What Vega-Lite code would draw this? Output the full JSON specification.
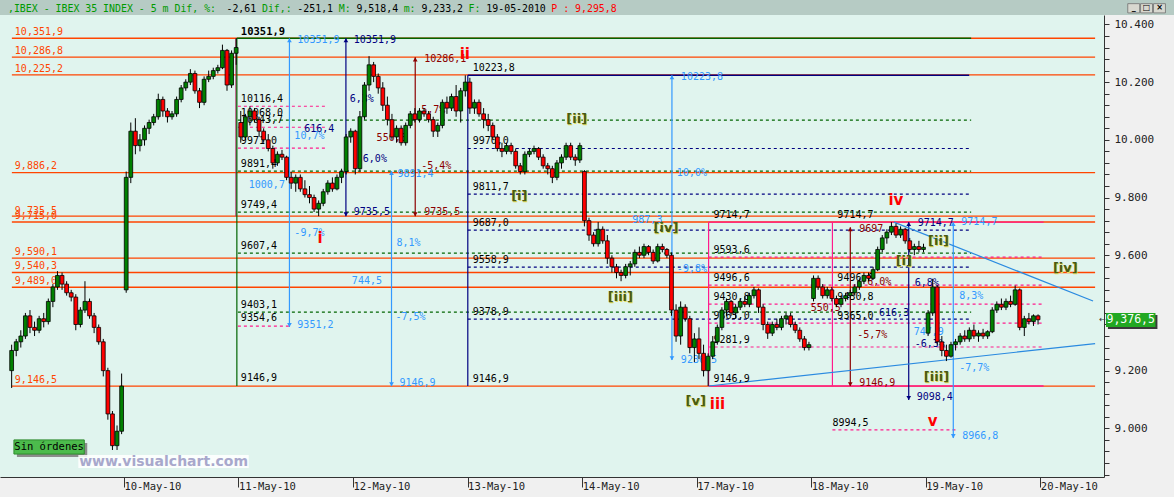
{
"$schema":"https://vega.github.io/schema/vega-lite/v6.json",
"width":1104,"height":462,"autosize":{"type":"none"},
"padding":{"left":0,"top":15,"right":70,"bottom":20},
"background":"#f0f0f0",
"config":{"view":{"fill":"#e0f4ee","stroke":null},"font":"DejaVu Sans Mono"},
"datasets":{
"candles":[
{"t":-0.98,"o":9200,"h":9290,"l":9140,"c":9270},{"t":-0.94,"o":9270,"h":9310,"l":9250,"c":9300},{"t":-0.90,"o":9300,"h":9340,"l":9280,"c":9320},{"t":-0.86,"o":9320,"h":9400,"l":9310,"c":9390},{"t":-0.82,"o":9390,"h":9410,"l":9330,"c":9350},{"t":-0.78,"o":9350,"h":9370,"l":9320,"c":9340},{"t":-0.74,"o":9340,"h":9390,"l":9330,"c":9380},{"t":-0.70,"o":9380,"h":9400,"l":9350,"c":9370},{"t":-0.66,"o":9370,"h":9450,"l":9360,"c":9440},{"t":-0.62,"o":9440,"h":9500,"l":9420,"c":9490},{"t":-0.58,"o":9490,"h":9545,"l":9480,"c":9530},{"t":-0.54,"o":9530,"h":9540,"l":9480,"c":9500},{"t":-0.50,"o":9500,"h":9510,"l":9460,"c":9470},{"t":-0.46,"o":9470,"h":9480,"l":9440,"c":9455},{"t":-0.42,"o":9455,"h":9465,"l":9340,"c":9360},{"t":-0.38,"o":9360,"h":9420,"l":9350,"c":9410},{"t":-0.34,"o":9410,"h":9510,"l":9400,"c":9440},{"t":-0.30,"o":9440,"h":9450,"l":9380,"c":9390},{"t":-0.26,"o":9390,"h":9400,"l":9330,"c":9350},{"t":-0.22,"o":9350,"h":9360,"l":9290,"c":9300},{"t":-0.18,"o":9300,"h":9310,"l":9180,"c":9200},{"t":-0.14,"o":9200,"h":9210,"l":9030,"c":9050},{"t":-0.10,"o":9050,"h":9060,"l":8925,"c":8940},{"t":-0.06,"o":8940,"h":9010,"l":8925,"c":8990},{"t":-0.02,"o":8990,"h":9190,"l":8980,"c":9146.5},
{"t":0.02,"o":9480,"h":9890,"l":9470,"c":9870},{"t":0.06,"o":9870,"h":10060,"l":9850,"c":10030},{"t":0.10,"o":10030,"h":10075,"l":9950,"c":9980},{"t":0.14,"o":9980,"h":10020,"l":9960,"c":10000},{"t":0.18,"o":10000,"h":10050,"l":9980,"c":10040},{"t":0.22,"o":10040,"h":10070,"l":10020,"c":10060},{"t":0.26,"o":10060,"h":10090,"l":10050,"c":10080},{"t":0.30,"o":10080,"h":10160,"l":10070,"c":10140},{"t":0.34,"o":10140,"h":10150,"l":10080,"c":10100},{"t":0.38,"o":10100,"h":10110,"l":10060,"c":10080},{"t":0.42,"o":10080,"h":10100,"l":10070,"c":10090},{"t":0.46,"o":10090,"h":10150,"l":10080,"c":10140},{"t":0.50,"o":10140,"h":10190,"l":10130,"c":10180},{"t":0.54,"o":10180,"h":10210,"l":10170,"c":10200},{"t":0.58,"o":10200,"h":10245,"l":10190,"c":10230},{"t":0.62,"o":10230,"h":10240,"l":10160,"c":10170},{"t":0.66,"o":10170,"h":10180,"l":10110,"c":10130},{"t":0.70,"o":10130,"h":10220,"l":10120,"c":10210},{"t":0.74,"o":10210,"h":10240,"l":10200,"c":10220},{"t":0.78,"o":10220,"h":10250,"l":10210,"c":10240},{"t":0.82,"o":10240,"h":10260,"l":10230,"c":10250},{"t":0.86,"o":10250,"h":10330,"l":10245,"c":10310},{"t":0.90,"o":10310,"h":10315,"l":10170,"c":10190},{"t":0.94,"o":10190,"h":10310,"l":10180,"c":10300},{"t":0.98,"o":10300,"h":10351.9,"l":10260,"c":10320},
{"t":1.02,"o":10060,"h":10100,"l":9990,"c":10010},{"t":1.06,"o":10010,"h":10090,"l":10000,"c":10080},{"t":1.10,"o":10080,"h":10116.4,"l":10050,"c":10100},{"t":1.14,"o":10100,"h":10110,"l":10060,"c":10070},{"t":1.18,"o":10070,"h":10080,"l":10010,"c":10030},{"t":1.22,"o":10030,"h":10040,"l":9990,"c":10000},{"t":1.26,"o":10000,"h":10020,"l":9960,"c":9970},{"t":1.30,"o":9970,"h":9980,"l":9900,"c":9920},{"t":1.34,"o":9920,"h":9960,"l":9910,"c":9950},{"t":1.38,"o":9950,"h":9965,"l":9930,"c":9940},{"t":1.42,"o":9940,"h":9945,"l":9860,"c":9870},{"t":1.46,"o":9870,"h":9890,"l":9830,"c":9850},{"t":1.50,"o":9850,"h":9880,"l":9820,"c":9870},{"t":1.54,"o":9870,"h":9880,"l":9820,"c":9830},{"t":1.58,"o":9830,"h":9860,"l":9800,"c":9810},{"t":1.62,"o":9810,"h":9840,"l":9780,"c":9800},{"t":1.66,"o":9800,"h":9810,"l":9750,"c":9760},{"t":1.70,"o":9760,"h":9790,"l":9735.5,"c":9780},{"t":1.74,"o":9780,"h":9830,"l":9770,"c":9820},{"t":1.78,"o":9820,"h":9860,"l":9810,"c":9850},{"t":1.82,"o":9850,"h":9870,"l":9820,"c":9830},{"t":1.86,"o":9830,"h":9880,"l":9825,"c":9870},{"t":1.90,"o":9870,"h":9900,"l":9850,"c":9890},{"t":1.94,"o":9890,"h":10020,"l":9880,"c":10010},{"t":1.98,"o":10010,"h":10040,"l":9990,"c":10030},
{"t":2.02,"o":10030,"h":10035,"l":9880,"c":9900},{"t":2.06,"o":9900,"h":10100,"l":9890,"c":10080},{"t":2.10,"o":10080,"h":10200,"l":10070,"c":10190},{"t":2.14,"o":10190,"h":10290,"l":10170,"c":10260},{"t":2.18,"o":10260,"h":10270,"l":10200,"c":10220},{"t":2.22,"o":10220,"h":10230,"l":10160,"c":10180},{"t":2.26,"o":10180,"h":10200,"l":10100,"c":10120},{"t":2.30,"o":10120,"h":10150,"l":10050,"c":10070},{"t":2.34,"o":10070,"h":10090,"l":10000,"c":10010},{"t":2.38,"o":10010,"h":10050,"l":9990,"c":10040},{"t":2.42,"o":10040,"h":10050,"l":9980,"c":9990},{"t":2.46,"o":9990,"h":10060,"l":9980,"c":10050},{"t":2.50,"o":10050,"h":10100,"l":10040,"c":10090},{"t":2.54,"o":10090,"h":10110,"l":10060,"c":10070},{"t":2.58,"o":10070,"h":10110,"l":10060,"c":10100},{"t":2.62,"o":10100,"h":10110,"l":10080,"c":10090},{"t":2.66,"o":10090,"h":10100,"l":10060,"c":10070},{"t":2.70,"o":10070,"h":10080,"l":10010,"c":10030},{"t":2.74,"o":10030,"h":10060,"l":10010,"c":10050},{"t":2.78,"o":10050,"h":10140,"l":10040,"c":10130},{"t":2.82,"o":10130,"h":10150,"l":10090,"c":10110},{"t":2.86,"o":10110,"h":10160,"l":10100,"c":10150},{"t":2.90,"o":10150,"h":10190,"l":10080,"c":10100},{"t":2.94,"o":10100,"h":10180,"l":10060,"c":10170},{"t":2.98,"o":10170,"h":10223.8,"l":10150,"c":10200},
{"t":3.02,"o":10200,"h":10215,"l":10090,"c":10110},{"t":3.06,"o":10110,"h":10140,"l":10090,"c":10130},{"t":3.10,"o":10130,"h":10140,"l":10080,"c":10090},{"t":3.14,"o":10090,"h":10110,"l":10040,"c":10070},{"t":3.18,"o":10070,"h":10090,"l":10030,"c":10050},{"t":3.22,"o":10050,"h":10060,"l":10000,"c":10010},{"t":3.26,"o":10010,"h":10020,"l":9960,"c":9970},{"t":3.30,"o":9970,"h":9990,"l":9940,"c":9960},{"t":3.34,"o":9960,"h":9990,"l":9950,"c":9980},{"t":3.38,"o":9980,"h":9990,"l":9950,"c":9960},{"t":3.42,"o":9960,"h":9970,"l":9900,"c":9910},{"t":3.46,"o":9910,"h":9920,"l":9880,"c":9890},{"t":3.50,"o":9890,"h":9960,"l":9880,"c":9950},{"t":3.54,"o":9950,"h":9970,"l":9940,"c":9960},{"t":3.58,"o":9960,"h":9980,"l":9950,"c":9970},{"t":3.62,"o":9970,"h":9975,"l":9930,"c":9940},{"t":3.66,"o":9940,"h":9950,"l":9900,"c":9910},{"t":3.70,"o":9910,"h":9920,"l":9880,"c":9900},{"t":3.74,"o":9900,"h":9910,"l":9850,"c":9870},{"t":3.78,"o":9870,"h":9930,"l":9860,"c":9920},{"t":3.82,"o":9920,"h":9950,"l":9900,"c":9940},{"t":3.86,"o":9940,"h":9990,"l":9930,"c":9980},{"t":3.90,"o":9980,"h":9990,"l":9930,"c":9940},{"t":3.94,"o":9940,"h":9950,"l":9910,"c":9930},{"t":3.98,"o":9930,"h":9990,"l":9920,"c":9980},
{"t":4.02,"o":9890,"h":9895,"l":9700,"c":9720},{"t":4.06,"o":9720,"h":9730,"l":9650,"c":9670},{"t":4.10,"o":9670,"h":9680,"l":9630,"c":9640},{"t":4.14,"o":9640,"h":9715,"l":9630,"c":9690},{"t":4.18,"o":9690,"h":9700,"l":9640,"c":9650},{"t":4.22,"o":9650,"h":9670,"l":9570,"c":9590},{"t":4.26,"o":9590,"h":9600,"l":9540,"c":9560},{"t":4.30,"o":9560,"h":9570,"l":9520,"c":9540},{"t":4.34,"o":9540,"h":9550,"l":9510,"c":9530},{"t":4.38,"o":9530,"h":9570,"l":9520,"c":9560},{"t":4.42,"o":9560,"h":9580,"l":9530,"c":9570},{"t":4.46,"o":9570,"h":9620,"l":9560,"c":9610},{"t":4.50,"o":9610,"h":9630,"l":9590,"c":9600},{"t":4.54,"o":9600,"h":9640,"l":9590,"c":9630},{"t":4.58,"o":9630,"h":9635,"l":9600,"c":9610},{"t":4.62,"o":9610,"h":9620,"l":9570,"c":9580},{"t":4.66,"o":9580,"h":9640,"l":9575,"c":9630},{"t":4.70,"o":9630,"h":9640,"l":9610,"c":9620},{"t":4.74,"o":9620,"h":9625,"l":9590,"c":9600},{"t":4.78,"o":9600,"h":9610,"l":9390,"c":9410},{"t":4.82,"o":9410,"h":9430,"l":9300,"c":9320},{"t":4.86,"o":9320,"h":9440,"l":9290,"c":9420},{"t":4.90,"o":9420,"h":9430,"l":9370,"c":9380},{"t":4.94,"o":9380,"h":9390,"l":9260,"c":9280},{"t":4.98,"o":9280,"h":9330,"l":9230,"c":9310},
{"t":5.02,"o":9310,"h":9350,"l":9240,"c":9260},{"t":5.06,"o":9260,"h":9290,"l":9180,"c":9200},{"t":5.10,"o":9200,"h":9260,"l":9146.9,"c":9250},{"t":5.14,"o":9250,"h":9320,"l":9240,"c":9300},{"t":5.18,"o":9300,"h":9360,"l":9290,"c":9350},{"t":5.22,"o":9350,"h":9420,"l":9340,"c":9410},{"t":5.26,"o":9410,"h":9450,"l":9390,"c":9440},{"t":5.30,"o":9440,"h":9445,"l":9390,"c":9400},{"t":5.34,"o":9400,"h":9430,"l":9380,"c":9420},{"t":5.38,"o":9420,"h":9450,"l":9410,"c":9440},{"t":5.42,"o":9440,"h":9460,"l":9420,"c":9430},{"t":5.46,"o":9430,"h":9470,"l":9420,"c":9460},{"t":5.50,"o":9460,"h":9490,"l":9450,"c":9480},{"t":5.54,"o":9480,"h":9485,"l":9400,"c":9420},{"t":5.58,"o":9420,"h":9430,"l":9340,"c":9360},{"t":5.62,"o":9360,"h":9370,"l":9310,"c":9330},{"t":5.66,"o":9330,"h":9370,"l":9320,"c":9360},{"t":5.70,"o":9360,"h":9380,"l":9340,"c":9350},{"t":5.74,"o":9350,"h":9390,"l":9340,"c":9380},{"t":5.78,"o":9380,"h":9400,"l":9360,"c":9390},{"t":5.82,"o":9390,"h":9400,"l":9350,"c":9360},{"t":5.86,"o":9360,"h":9370,"l":9330,"c":9340},{"t":5.90,"o":9340,"h":9350,"l":9300,"c":9310},{"t":5.94,"o":9310,"h":9320,"l":9270,"c":9280},{"t":5.98,"o":9280,"h":9300,"l":9270,"c":9290},
{"t":6.02,"o":9450,"h":9530,"l":9440,"c":9520},{"t":6.06,"o":9520,"h":9530,"l":9480,"c":9490},{"t":6.10,"o":9490,"h":9500,"l":9450,"c":9460},{"t":6.14,"o":9460,"h":9490,"l":9450,"c":9480},{"t":6.18,"o":9480,"h":9490,"l":9440,"c":9450},{"t":6.22,"o":9450,"h":9460,"l":9420,"c":9430},{"t":6.26,"o":9430,"h":9460,"l":9420,"c":9450},{"t":6.30,"o":9450,"h":9470,"l":9440,"c":9460},{"t":6.34,"o":9460,"h":9480,"l":9450,"c":9470},{"t":6.38,"o":9470,"h":9500,"l":9460,"c":9490},{"t":6.42,"o":9490,"h":9520,"l":9480,"c":9510},{"t":6.46,"o":9510,"h":9540,"l":9500,"c":9530},{"t":6.50,"o":9530,"h":9540,"l":9510,"c":9520},{"t":6.54,"o":9520,"h":9560,"l":9515,"c":9550},{"t":6.58,"o":9550,"h":9630,"l":9545,"c":9620},{"t":6.62,"o":9620,"h":9670,"l":9610,"c":9660},{"t":6.66,"o":9660,"h":9690,"l":9640,"c":9680},{"t":6.70,"o":9680,"h":9714.7,"l":9670,"c":9700},{"t":6.74,"o":9700,"h":9710,"l":9660,"c":9670},{"t":6.78,"o":9670,"h":9700,"l":9660,"c":9690},{"t":6.82,"o":9690,"h":9695,"l":9640,"c":9650},{"t":6.86,"o":9650,"h":9660,"l":9610,"c":9620},{"t":6.90,"o":9620,"h":9640,"l":9600,"c":9630},{"t":6.94,"o":9630,"h":9650,"l":9610,"c":9620},{"t":6.98,"o":9620,"h":9640,"l":9610,"c":9627.6},
{"t":7.02,"o":9330,"h":9410,"l":9320,"c":9400},{"t":7.06,"o":9400,"h":9518.4,"l":9390,"c":9490},{"t":7.10,"o":9490,"h":9495,"l":9290,"c":9300},{"t":7.14,"o":9300,"h":9320,"l":9250,"c":9270},{"t":7.18,"o":9270,"h":9290,"l":9233.2,"c":9250},{"t":7.22,"o":9250,"h":9300,"l":9245,"c":9290},{"t":7.26,"o":9290,"h":9310,"l":9270,"c":9300},{"t":7.30,"o":9300,"h":9330,"l":9290,"c":9320},{"t":7.34,"o":9320,"h":9340,"l":9300,"c":9310},{"t":7.38,"o":9310,"h":9350,"l":9300,"c":9340},{"t":7.42,"o":9340,"h":9360,"l":9310,"c":9320},{"t":7.46,"o":9320,"h":9340,"l":9300,"c":9330},{"t":7.50,"o":9330,"h":9345,"l":9310,"c":9320},{"t":7.54,"o":9320,"h":9340,"l":9310,"c":9335},{"t":7.58,"o":9335,"h":9420,"l":9330,"c":9410},{"t":7.62,"o":9410,"h":9440,"l":9400,"c":9430},{"t":7.66,"o":9430,"h":9450,"l":9410,"c":9420},{"t":7.70,"o":9420,"h":9450,"l":9410,"c":9440},{"t":7.74,"o":9440,"h":9460,"l":9420,"c":9430},{"t":7.78,"o":9430,"h":9495,"l":9425,"c":9480},{"t":7.82,"o":9480,"h":9485,"l":9340,"c":9350},{"t":7.86,"o":9350,"h":9390,"l":9320,"c":9380},{"t":7.90,"o":9380,"h":9400,"l":9360,"c":9370},{"t":7.94,"o":9370,"h":9395,"l":9355,"c":9390},{"t":7.98,"o":9390,"h":9395,"l":9360,"c":9376.5}
],
"hsolid":[
{"t":-0.978,"t2":8.478,"v":10351.9,"k":"ora"},{"t":-0.978,"t2":8.478,"v":10286.8,"k":"ora"},{"t":-0.978,"t2":8.478,"v":10225.2,"k":"ora"},{"t":-0.978,"t2":8.478,"v":9886.2,"k":"ora"},{"t":-0.978,"t2":8.478,"v":9735.5,"k":"ora"},{"t":-0.978,"t2":8.478,"v":9715.0,"k":"ora"},{"t":-0.978,"t2":8.478,"v":9590.1,"k":"ora"},{"t":-0.978,"t2":8.478,"v":9540.3,"k":"ora"},{"t":-0.978,"t2":8.478,"v":9489.0,"k":"ora"},{"t":-0.978,"t2":8.478,"v":9146.5,"k":"ora"},
{"t":0.986,"t2":7.396,"v":10351.9,"k":"grn"},{"t":3.002,"t2":7.379,"v":10223.8,"k":"nav"},{"t":5.104,"t2":8.028,"v":9714.7,"k":"pnk"},{"t":5.104,"t2":8.028,"v":9146.9,"k":"pnk"}
],
"hdash":[
{"t":0.995,"t2":7.396,"v":10068.0,"k":"grn"},{"t":0.995,"t2":7.396,"v":9891.4,"k":"grn"},{"t":0.995,"t2":7.396,"v":9749.4,"k":"grn"},{"t":0.995,"t2":7.396,"v":9607.4,"k":"grn"},{"t":0.995,"t2":7.396,"v":9403.1,"k":"grn"},
{"t":0.995,"t2":1.773,"v":10116.4,"k":"pnk"},{"t":0.995,"t2":1.773,"v":10043.7,"k":"pnk"},{"t":0.995,"t2":1.773,"v":9971.0,"k":"pnk"},{"t":0.995,"t2":1.445,"v":9354.6,"k":"pnk"},
{"t":3.002,"t2":7.379,"v":9970.0,"k":"nav"},{"t":3.002,"t2":7.379,"v":9811.7,"k":"nav"},{"t":3.002,"t2":7.379,"v":9687.0,"k":"nav"},{"t":3.002,"t2":7.379,"v":9558.9,"k":"nav"},{"t":3.002,"t2":7.379,"v":9378.9,"k":"nav"},
{"t":5.104,"t2":8.028,"v":9593.6,"k":"pnk"},{"t":5.104,"t2":8.028,"v":9496.6,"k":"pnk"},{"t":5.104,"t2":8.028,"v":9430.8,"k":"pnk"},{"t":5.104,"t2":8.028,"v":9365.0,"k":"pnk"},{"t":5.104,"t2":8.028,"v":9281.9,"k":"pnk"},{"t":6.185,"t2":7.284,"v":8994.5,"k":"pnk"}
],
"vlines":[
{"t":0.978,"v":10351.9,"v2":9735.5,"k":"mvr"},{"t":0.986,"v":10351.9,"v2":9146.9,"k":"grn"},{"t":1.445,"v":10351.9,"v2":9351.2,"k":"lbl"},{"t":1.938,"v":10351.9,"v2":9735.5,"k":"nav"},{"t":2.336,"v":9891.4,"v2":9146.9,"k":"lbl"},{"t":2.543,"v":10286.1,"v2":9735.5,"k":"drd"},{"t":3.002,"v":10223.8,"v2":9146.9,"k":"nav"},{"t":4.784,"v":10223.8,"v2":9236.5,"k":"lbl"},{"t":5.104,"v":9714.7,"v2":9146.9,"k":"pnk"},{"t":6.185,"v":9714.7,"v2":9146.9,"k":"pnk"},{"t":6.341,"v":9697.4,"v2":9146.9,"k":"drd"},{"t":6.851,"v":9714.7,"v2":9098.4,"k":"nav"},{"t":7.240,"v":9714.7,"v2":8966.8,"k":"lbl"}
],
"arrows":[
{"t":1.445,"v":10345,"d":"up","k":"lbl"},{"t":1.445,"v":9358,"d":"down","k":"lbl"},{"t":1.938,"v":10345,"d":"up","k":"nav"},{"t":1.938,"v":9742,"d":"down","k":"nav"},{"t":2.336,"v":9885,"d":"up","k":"lbl"},{"t":2.336,"v":9153,"d":"down","k":"lbl"},{"t":2.543,"v":10279,"d":"up","k":"drd"},{"t":2.543,"v":9742,"d":"down","k":"drd"},{"t":4.784,"v":10217,"d":"up","k":"lbl"},{"t":4.784,"v":9243,"d":"down","k":"lbl"},{"t":6.341,"v":9690,"d":"up","k":"drd"},{"t":6.341,"v":9153,"d":"down","k":"drd"},{"t":6.851,"v":9708,"d":"up","k":"nav"},{"t":6.851,"v":9105,"d":"down","k":"nav"},{"t":7.240,"v":9708,"d":"up","k":"lbl"},{"t":7.240,"v":8973,"d":"down","k":"lbl"}
],
"trend":[
{"t":6.721,"t2":8.460,"v":9714.7,"v2":9441.4,"k":"tl"},{"t":5.104,"t2":8.478,"v":9146.9,"v2":9294.0,"k":"tl"}
],
"labels":[
{"t":-0.952,"v":10374,"s":"10,351,9","k":"ora"},{"t":-0.952,"v":10309,"s":"10,286,8","k":"ora"},{"t":-0.952,"v":10247,"s":"10,225,2","k":"ora"},{"t":-0.952,"v":9908,"s":"9,886,2","k":"ora"},{"t":-0.952,"v":9753,"s":"9,735,5","k":"ora"},{"t":-0.952,"v":9735,"s":"9,715,0","k":"ora"},{"t":-0.952,"v":9612,"s":"9,590,1","k":"ora"},{"t":-0.952,"v":9562,"s":"9,540,3","k":"ora"},{"t":-0.952,"v":9511,"s":"9,489,0","k":"ora"},{"t":-0.952,"v":9168,"s":"9,146,5","k":"ora"},
{"t":1.021,"v":10140,"s":"10116,4","k":"blk"},{"t":1.021,"v":10093,"s":"10068,0","k":"blk"},{"t":1.021,"v":10069,"s":"10043,7","k":"blk"},{"t":1.021,"v":9996,"s":"9971,0","k":"blk"},{"t":1.021,"v":9916,"s":"9891,4","k":"blk"},{"t":1.021,"v":9774,"s":"9749,4","k":"blk"},{"t":1.021,"v":9632,"s":"9607,4","k":"blk"},{"t":1.021,"v":9428,"s":"9403,1","k":"blk"},{"t":1.021,"v":9382,"s":"9354,6","k":"blk"},{"t":1.021,"v":9174,"s":"9146,9","k":"blk"},
{"t":3.045,"v":10250,"s":"10223,8","k":"blk"},{"t":3.045,"v":9995,"s":"9970,0","k":"blk"},{"t":3.045,"v":9837,"s":"9811,7","k":"blk"},{"t":3.045,"v":9712,"s":"9687,0","k":"blk"},{"t":3.045,"v":9584,"s":"9558,9","k":"blk"},{"t":3.045,"v":9404,"s":"9378,9","k":"blk"},{"t":3.045,"v":9172,"s":"9146,9","k":"blk"},
{"t":5.147,"v":9740,"s":"9714,7","k":"blk"},{"t":5.147,"v":9619,"s":"9593,6","k":"blk"},{"t":5.147,"v":9522,"s":"9496,6","k":"blk"},{"t":5.147,"v":9456,"s":"9430,8","k":"blk"},{"t":5.147,"v":9390,"s":"9365,0","k":"blk"},{"t":5.147,"v":9307,"s":"9281,9","k":"blk"},{"t":5.147,"v":9172,"s":"9146,9","k":"blk"},
{"t":6.228,"v":9740,"s":"9714,7","k":"blk"},{"t":6.228,"v":9522,"s":"9496,6","k":"blk"},{"t":6.228,"v":9456,"s":"9430,8","k":"blk"},{"t":6.228,"v":9390,"s":"9365,0","k":"blk"},{"t":6.185,"v":9020,"s":"8994,5","k":"blk"},
{"t":1.514,"v":10346,"s":"10351,9","k":"lbl"},{"t":1.488,"v":10013,"s":"10,7%","k":"lbl"},{"t":1.090,"v":9845,"s":"1000,7","k":"lbl"},{"t":1.488,"v":9677,"s":"-9,7%","k":"lbl"},{"t":1.514,"v":9359,"s":"9351,2","k":"lbl"},
{"t":2.388,"v":9882,"s":"9891,4","k":"lbl"},{"t":2.379,"v":9642,"s":"8,1%","k":"lbl"},{"t":1.990,"v":9511,"s":"744,5","k":"lbl"},{"t":2.370,"v":9386,"s":"-7,5%","k":"lbl"},{"t":2.405,"v":9157,"s":"9146,9","k":"lbl"},
{"t":4.862,"v":10218,"s":"10223,8","k":"lbl"},{"t":4.827,"v":9885,"s":"10,0%","k":"lbl"},{"t":4.438,"v":9722,"s":"987,3","k":"lbl"},{"t":4.827,"v":9554,"s":"-9,8%","k":"lbl"},{"t":4.862,"v":9237,"s":"9236,5","k":"lbl"},
{"t":7.310,"v":9714,"s":"9714,7","k":"lbl"},{"t":7.292,"v":9459,"s":"8,3%","k":"lbl"},{"t":6.894,"v":9334,"s":"747,9","k":"lbl"},{"t":7.292,"v":9209,"s":"-7,7%","k":"lbl"},{"t":7.318,"v":8974,"s":"8966,8","k":"lbl"},
{"t":2.007,"v":10346,"s":"10351,9","k":"nav"},{"t":1.972,"v":10141,"s":"6,3%","k":"nav"},{"t":1.574,"v":10037,"s":"616,4","k":"nav"},{"t":2.033,"v":9934,"s":"-6,0%","k":"nav"},{"t":2.007,"v":9750,"s":"9735,5","k":"nav"},
{"t":6.929,"v":9712,"s":"9714,7","k":"nav"},{"t":6.903,"v":9504,"s":"6,8%","k":"nav"},{"t":6.592,"v":9400,"s":"616,3","k":"nav"},{"t":6.903,"v":9292,"s":"-6,3%","k":"nav"},{"t":6.920,"v":9109,"s":"9098,4","k":"nav"},
{"t":2.621,"v":10280,"s":"10286,1","k":"drd"},{"t":2.206,"v":10006,"s":"550,6","k":"drd"},{"t":2.595,"v":10103,"s":"5,7%","k":"drd"},{"t":2.595,"v":9909,"s":"-5,4%","k":"drd"},{"t":2.621,"v":9750,"s":"9735,5","k":"drd"},
{"t":6.419,"v":9691,"s":"9697","k":"drd"},{"t":6.488,"v":9507,"s":"6,0%","k":"drd"},{"t":5.995,"v":9417,"s":"550,5","k":"drd"},{"t":6.401,"v":9324,"s":"-5,7%","k":"drd"},{"t":6.419,"v":9157,"s":"9146,9","k":"drd"}
],
"ewr":[
{"t":2.976,"v":10297,"s":"ii"},{"t":1.713,"v":9660,"s":"i"},{"t":5.182,"v":9084,"s":"iii"},{"t":6.739,"v":9792,"s":"iv"},{"t":7.059,"v":9026,"s":"v"}
],
"ewg":[
{"t":3.953,"v":10072,"s":"[ii]"},{"t":3.452,"v":9805,"s":"[i]"},{"t":4.334,"v":9455,"s":"[iii]"},{"t":4.732,"v":9694,"s":"[iv]"},{"t":4.991,"v":9095,"s":"[v]"},{"t":6.808,"v":9580,"s":"[i]"},{"t":7.111,"v":9649,"s":"[ii]"},{"t":7.093,"v":9178,"s":"[iii]"},{"t":8.218,"v":9556,"s":"[iv]"}
],
"hdr":[
{"t":-1.012,"v":10454,"s":",IBEX - IBEX 35 INDEX -  5 m Dif, %:","k":"hgr"},{"t":0.895,"v":10454,"s":"-2,61","k":"blk"},{"t":1.205,"v":10454,"s":"Dif,:","k":"hgr"},{"t":1.514,"v":10454,"s":"-251,1","k":"blk"},{"t":1.875,"v":10454,"s":"M:","k":"hgr"},{"t":2.030,"v":10454,"s":"9,518,4","k":"blk"},{"t":2.442,"v":10454,"s":"m:","k":"hgr"},{"t":2.597,"v":10454,"s":"9,233,2","k":"blk"},{"t":3.009,"v":10454,"s":"F:","k":"hgr"},{"t":3.164,"v":10454,"s":"19-05-2010","k":"blk"},{"t":3.731,"v":10454,"s":"P : 9,295,8","k":"ered"}
],
"btn":[
{"t":8.763,"t2":8.867,"v":10472,"v2":10440,"s":"_","m":8.815,"c":10456},{"t":8.875,"t2":8.979,"v":10472,"v2":10440,"s":"□","m":8.927,"c":10456},{"t":8.988,"t2":9.092,"v":10472,"v2":10440,"s":"×","m":9.040,"c":10456}
]
},
"encoding":{
"x":{"field":"t","type":"quantitative","scale":{"domain":[-1.038,8.512],"nice":false,"zero":false},
"axis":{"orient":"bottom","values":[0,1,2,3,4,5,6,7,8],"labelExpr":"['10-May-10','11-May-10','12-May-10','13-May-10','14-May-10','17-May-10','18-May-10','19-May-10','20-May-10'][datum.value]","title":null,"grid":false,"tickSize":10,"tickColor":"#333333","domainColor":"#333333","labelAlign":"left","labelBaseline":"top","labelPadding":-6,"labelDx":3,"labelFont":"DejaVu Sans Mono","labelFontSize":10.5,"labelColor":"#222222","labelFlush":false,"labelOverlap":false}},
"y":{"field":"v","type":"quantitative","scale":{"domain":[8831.4,10432.7],"nice":false,"zero":false},
"axis":{"orient":"right","values":[8840,8880,8920,8960,9000,9040,9080,9120,9160,9200,9240,9280,9320,9360,9400,9440,9480,9520,9560,9600,9640,9680,9720,9760,9800,9840,9880,9920,9960,10000,10040,10080,10120,10160,10200,10240,10280,10320,10360,10400],"labelExpr":"datum.value % 200 == 0 && datum.value != 9400 ? replace(format(datum.value, ','), ',', '.') : ''","title":null,"grid":false,"tickSize":5,"tickColor":"#333333","domainColor":"#333333","labelPadding":5,"labelFont":"DejaVu Sans Mono","labelFontSize":11,"labelColor":"#222222","labelOverlap":false,"labelFlush":false}}
},
"layer":[
{"data":{"values":[{"t":-1.2,"t2":9.4,"v":10432.7,"v2":10520}]},"mark":{"type":"rect","color":"#b6cbc4"},"encoding":{"x2":{"field":"t2"},"y2":{"field":"v2"}}},
{"data":{"name":"btn"},"mark":{"type":"rect","color":"#d8d8d0","stroke":"#707070","strokeWidth":0.8},"encoding":{"x2":{"field":"t2"},"y2":{"field":"v2"}}},
{"data":{"name":"btn"},"mark":{"type":"text","align":"center","baseline":"middle","font":"DejaVu Sans","fontSize":8,"fontWeight":"bold","color":"#000000"},"encoding":{"x":{"field":"m","type":"quantitative"},"y":{"field":"c","type":"quantitative"},"text":{"field":"s"}}},
{"data":{"name":"hdr"},"mark":{"type":"text","align":"left","baseline":"middle","font":"DejaVu Sans Mono","fontSize":9.9},"encoding":{"text":{"field":"s"},"color":{"field":"k","type":"nominal","scale":{"domain":["ora","grn","nav","pnk","lbl","drd","blk","ered","eolv","hgr","mvr","tl"],"range":["#ff4500","#006400","#000080","#ff1a8c","#3399ff","#8b0000","#000000","#ff0000","#4a5a12","#009a00","#b0306a","#2a8ae0"]},"legend":null}}},
{"data":{"name":"hsolid"},"mark":{"type":"rule","strokeWidth":1.4},"encoding":{"x2":{"field":"t2"},"color":{"field":"k","type":"nominal","scale":{"domain":["ora","grn","nav","pnk","lbl","drd","blk","ered","eolv","hgr","mvr","tl"],"range":["#ff4500","#006400","#000080","#ff1a8c","#3399ff","#8b0000","#000000","#ff0000","#4a5a12","#009a00","#b0306a","#2a8ae0"]},"legend":null}}},
{"data":{"name":"hdash"},"mark":{"type":"rule","strokeWidth":1.2,"strokeDash":[3,3]},"encoding":{"x2":{"field":"t2"},"color":{"field":"k","type":"nominal","scale":{"domain":["ora","grn","nav","pnk","lbl","drd","blk","ered","eolv","hgr","mvr","tl"],"range":["#ff4500","#006400","#000080","#ff1a8c","#3399ff","#8b0000","#000000","#ff0000","#4a5a12","#009a00","#b0306a","#2a8ae0"]},"legend":null}}},
{"data":{"name":"vlines"},"mark":{"type":"rule","strokeWidth":1.2},"encoding":{"y2":{"field":"v2"},"color":{"field":"k","type":"nominal","scale":{"domain":["ora","grn","nav","pnk","lbl","drd","blk","ered","eolv","hgr","mvr","tl"],"range":["#ff4500","#006400","#000080","#ff1a8c","#3399ff","#8b0000","#000000","#ff0000","#4a5a12","#009a00","#b0306a","#2a8ae0"]},"legend":null}}},
{"data":{"name":"trend"},"mark":{"type":"rule","strokeWidth":1.2},"encoding":{"x2":{"field":"t2"},"y2":{"field":"v2"},"color":{"field":"k","type":"nominal","scale":{"domain":["ora","grn","nav","pnk","lbl","drd","blk","ered","eolv","hgr","mvr","tl"],"range":["#ff4500","#006400","#000080","#ff1a8c","#3399ff","#8b0000","#000000","#ff0000","#4a5a12","#009a00","#b0306a","#2a8ae0"]},"legend":null}}},
{"data":{"name":"arrows"},"mark":{"type":"point","filled":true,"size":22,"opacity":1},"encoding":{"shape":{"field":"d","type":"nominal","scale":{"domain":["up","down"],"range":["triangle-up","triangle-down"]},"legend":null},"color":{"field":"k","type":"nominal","scale":{"domain":["ora","grn","nav","pnk","lbl","drd","blk","ered","eolv","hgr","mvr","tl"],"range":["#ff4500","#006400","#000080","#ff1a8c","#3399ff","#8b0000","#000000","#ff0000","#4a5a12","#009a00","#b0306a","#2a8ae0"]},"legend":null}}},
{"data":{"name":"labels"},"mark":{"type":"text","align":"left","baseline":"middle","font":"DejaVu Sans Mono","fontSize":10},"encoding":{"text":{"field":"s"},"color":{"field":"k","type":"nominal","scale":{"domain":["ora","grn","nav","pnk","lbl","drd","blk","ered","eolv","hgr","mvr","tl"],"range":["#ff4500","#006400","#000080","#ff1a8c","#3399ff","#8b0000","#000000","#ff0000","#4a5a12","#009a00","#b0306a","#2a8ae0"]},"legend":null}}},
{"data":{"values":[{"t":1.021,"v":10375,"s":"10351,9"}]},"mark":{"type":"text","align":"left","baseline":"middle","font":"DejaVu Sans Mono","fontSize":10.5,"fontWeight":"bold","color":"#000000"},"encoding":{"text":{"field":"s"}}},
{"data":{"name":"candles"},"mark":{"type":"rule","color":"#000000","strokeWidth":1},"encoding":{"y":{"field":"l","type":"quantitative"},"y2":{"field":"h"}}},
{"data":{"name":"candles"},"mark":{"type":"bar","size":3.8,"stroke":"#000000","strokeWidth":0.8},"encoding":{"y":{"field":"o","type":"quantitative"},"y2":{"field":"c"},"color":{"condition":{"test":"datum.c < datum.o","value":"#ff0000"},"value":"#008000"}}},
{"data":{"name":"ewr"},"mark":{"type":"text","align":"center","baseline":"middle","font":"DejaVu Sans","fontSize":15,"fontWeight":"bold","color":"#ff0000"},"encoding":{"text":{"field":"s"}}},
{"data":{"name":"ewg"},"mark":{"type":"text","align":"center","baseline":"middle","font":"DejaVu Sans","fontSize":13,"fontWeight":"bold","color":"#e8e060","dx":1,"dy":1},"encoding":{"text":{"field":"s"}}},
{"data":{"name":"ewg"},"mark":{"type":"text","align":"center","baseline":"middle","font":"DejaVu Sans","fontSize":13,"fontWeight":"bold","color":"#4a5a12"},"encoding":{"text":{"field":"s"}}},
{"data":{"values":[{"t":-0.934,"t2":-0.320,"v":8949,"v2":8901}]},"mark":{"type":"rect","color":"#8c8c8c"},"encoding":{"x2":{"field":"t2"},"y2":{"field":"v2"}}},
{"data":{"values":[{"t":-0.960,"t2":-0.346,"v":8960,"v2":8911}]},"mark":{"type":"rect","color":"#4cbb4c","stroke":"#2e8b2e","strokeWidth":1},"encoding":{"x2":{"field":"t2"},"y2":{"field":"v2"}}},
{"data":{"values":[{"t":-0.653,"v":8935.5,"s":"Sin órdenes"}]},"mark":{"type":"text","align":"center","baseline":"middle","font":"DejaVu Sans Mono","fontSize":10.5,"color":"#000000"},"encoding":{"text":{"field":"s"}}},
{"data":{"values":[{"t":-0.398,"t2":1.090,"v":8907.5,"v2":8862.5}]},"mark":{"type":"rect","color":"#ffffff","opacity":0.85},"encoding":{"x2":{"field":"t2"},"y2":{"field":"v2"}}},
{"data":{"values":[{"t":0.346,"v":8885,"s":"www.visualchart.com"}]},"mark":{"type":"text","align":"center","baseline":"middle","font":"DejaVu Sans","fontSize":14,"fontWeight":"bold","color":"#a8a8cc"},"encoding":{"text":{"field":"s"}}},
{"data":{"values":[{"t":8.590,"t2":9.022,"v":9392.9,"v2":9344.4}]},"mark":{"type":"rect","color":"#3a3a3a"},"encoding":{"x2":{"field":"t2"},"y2":{"field":"v2"}}},
{"data":{"values":[{"t":8.573,"t2":9.005,"v":9399.8,"v2":9351.3}]},"mark":{"type":"rect","color":"#22a822"},"encoding":{"x2":{"field":"t2"},"y2":{"field":"v2"}}},
{"data":{"values":[{"t":8.789,"v":9375.6,"s":"9,376,5"}]},"mark":{"type":"text","align":"center","baseline":"middle","font":"DejaVu Sans Mono","fontSize":11.5,"color":"#ffffff"},"encoding":{"text":{"field":"s"}}},
{"data":{"values":[{"t":8.514,"v":9375.6,"s":"←"}]},"mark":{"type":"text","align":"left","baseline":"middle","font":"DejaVu Sans","fontSize":8,"color":"#333333"},"encoding":{"text":{"field":"s"}}}
]
}
